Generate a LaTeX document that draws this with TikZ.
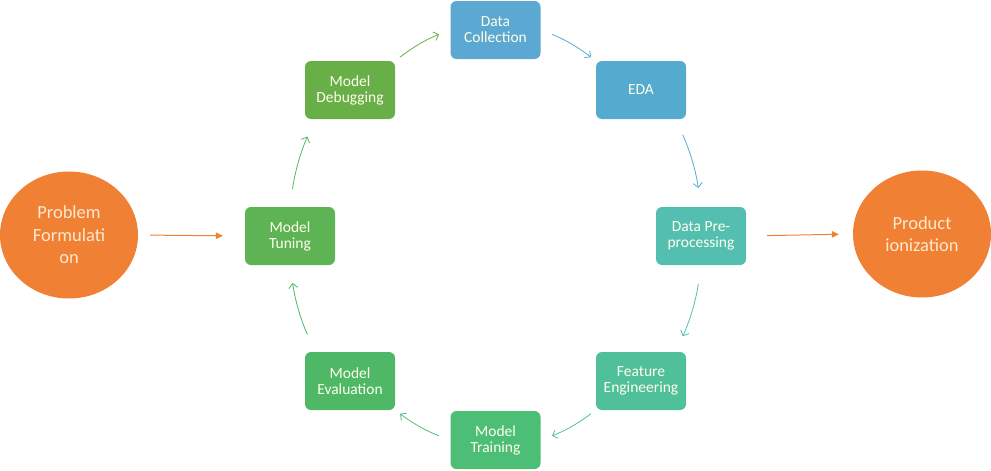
\documentclass[tikz,border=0pt]{standalone}
\usepackage{fontspec}
\setmainfont{Carlito}
\usetikzlibrary{shapes.geometric, arrows.meta}

\definecolor{orangeA}{RGB}{240,128,52}
\definecolor{creamT}{RGB}{253,232,208}
\definecolor{dcC}{RGB}{91,169,211}
\definecolor{edaC}{RGB}{84,171,207}
\definecolor{preC}{RGB}{84,191,177}
\definecolor{feC}{RGB}{80,192,155}
\definecolor{trC}{RGB}{76,190,118}
\definecolor{evC}{RGB}{78,184,102}
\definecolor{tunC}{RGB}{94,180,84}
\definecolor{dbgC}{RGB}{104,175,72}

\begin{document}
\begin{tikzpicture}[x=1pt,y=-1pt,
    stage/.style={rectangle, rounded corners=6pt, minimum width=90pt, minimum height=58pt,
      inner sep=0pt, align=center, text=white!92!yellow, font=\fontsize{15.5}{16}\selectfont},
    endcircle/.style={ellipse, fill=orangeA, minimum width=138pt, minimum height=127pt,
      inner sep=0pt, align=center, text=creamT, font=\fontsize{18.5}{22.5}\selectfont},
    cyclearrow/.style={-{Straight Barb[length=4.5pt,width=9pt]}, line width=0.8pt, bend left=8},
    flowarrow/.style={-{Triangle[length=7pt,width=6.5pt]}, line width=1pt, orangeA}]
    \useasboundingbox (0,0) rectangle (991,471);
    \node[stage, fill=dcC] (dc) at (495.5,30) {Data\\Collection};
    \node[stage, fill=edaC] (eda) at (641,90) {EDA};
    \node[stage, fill=preC] (pre) at (701,236) {Data Pre-\\processing};
    \node[stage, fill=feC] (fe) at (641,381) {Feature\\Engineering};
    \node[stage, fill=trC] (tr) at (495.5,440) {Model\\Training};
    \node[stage, fill=evC] (ev) at (350,381) {Model\\Evaluation};
    \node[stage, fill=tunC] (tun) at (290,236) {Model\\Tuning};
    \node[stage, fill=dbgC] (dbg) at (350,90) {Model\\Debugging};
    \node[endcircle] (prob) at (69,235) {Problem\\Formulati\\on};
    \node[endcircle] (prod) at (922,234) {Product\\ionization};

    \draw[flowarrow, shorten <=12pt, shorten >=22pt] (prob.east) -- (tun.west);
    \draw[flowarrow, shorten <=21pt, shorten >=14pt] (pre.east) -- (prod.west);

    \draw[cyclearrow, dbgC!70!tunC, shorten <=6pt, shorten >=12pt] (dbg.north east) to (dc.west);
    \draw[cyclearrow, edaC!80!preC, shorten <=12pt, shorten >=6pt] (dc.east) to (eda.north west);
    \draw[cyclearrow, edaC, shorten <=17pt, shorten >=19pt] (eda.-40) to (pre.north);
    \draw[cyclearrow, preC, shorten <=19pt, shorten >=17pt] (pre.south) to (fe.40);
    \draw[cyclearrow, feC, shorten <=6pt, shorten >=12pt] (fe.south west) to (tr.east);
    \draw[cyclearrow, trC, shorten <=12pt, shorten >=6pt] (tr.west) to (ev.south east);
    \draw[cyclearrow, evC, shorten <=19pt, shorten >=18pt] (ev.140) to (tun.south);
    \draw[cyclearrow, tunC!70!trC, shorten <=18pt, shorten >=19pt] (tun.north) to (dbg.-140);
\end{tikzpicture}
\end{document}
